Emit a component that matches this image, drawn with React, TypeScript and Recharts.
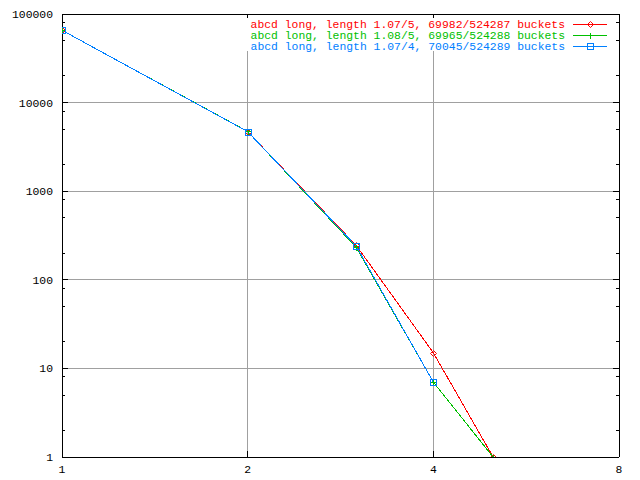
import React from 'react';
import { LineChart, Line, XAxis, YAxis, CartesianGrid, Legend } from 'recharts';

const FONT = "'Liberation Mono', 'DejaVu Sans Mono', monospace";

const seriesNames = [
  'abcd long, length 1.07/5, 69982/524287 buckets',
  'abcd long, length 1.08/5, 69965/524288 buckets',
  'abcd long, length 1.07/4, 70045/524289 buckets',
];
const seriesColors = ['#ff0000', '#00c000', '#0080ff'];

const redX = [1, 2, 3, 4, 5];
const redY = [65500, 4700, 244, 15, 1];
const greenX = [1, 2, 3, 4, 5];
const greenY = [65500, 4720, 232, 7, 1];
const blueX = [1, 2, 3, 4];
const blueY = [65500, 4700, 239, 7];

const xTicks = [1, 2, 4, 8];
const yTicks = [1, 10, 100, 1000, 10000, 100000];
const yMinorTicks = [2, 5, 8, 20, 50, 80, 200, 500, 800, 2000, 5000, 8000, 20000, 50000, 80000];
const yAllTicks = [...yTicks, ...yMinorTicks].sort((a, b) => a - b);

const toRows = (xs: number[], ys: number[]) => xs.map((x, i) => ({ x, y: ys[i] }));
const redData = toRows(redX, redY);
const greenData = toRows(greenX, greenY);
const blueData = toRows(blueX, blueY);

const Marker = ({ kind, cx, cy, color }: { kind: number; cx: number; cy: number; color: string }) => {
  if (kind === 0) {
    return (
      <polygon
        points={`${cx},${cy - 3} ${cx + 3},${cy} ${cx},${cy + 3} ${cx - 3},${cy}`}
        fill="none"
        stroke={color}
        strokeWidth={1}
      />
    );
  }
  if (kind === 1) {
    return (
      <g stroke={color} strokeWidth={1} shapeRendering="crispEdges">
        <line x1={cx - 3} y1={cy} x2={cx + 3} y2={cy} />
        <line x1={cx} y1={cy - 3} x2={cx} y2={cy + 3} />
      </g>
    );
  }
  return (
    <rect x={cx - 3} y={cy - 3} width={6} height={6} fill="none" stroke={color} strokeWidth={1} shapeRendering="crispEdges" />
  );
};

const makeDot = (kind: number, color: string) => (props: any) => {
  const { cx, cy, index } = props;
  if (cx == null || cy == null) return <g key={`d${kind}-${index}`} />;
  return (
    <g key={`d${kind}-${index}`}>
      <Marker kind={kind} cx={Math.round(cx) + 0.5} cy={Math.round(cy) + 0.5} color={color} />
    </g>
  );
};

const isMajor = (v: number) => yTicks.includes(v);

const LeftTick = (props: any) => {
  const { x, y, payload } = props;
  const major = isMajor(payload.value);
  return (
    <g>
      <line x1={x} y1={y} x2={x + (major ? 6 : 3)} y2={y} stroke="#000" shapeRendering="crispEdges" />
      {major ? (
        <text x={x - 9} y={y} dy={4} textAnchor="end" fontFamily={FONT} fontSize={11.4} fill="#000">
          {payload.value}
        </text>
      ) : null}
    </g>
  );
};
const RightTick = (props: any) => {
  const { x, y, payload } = props;
  const major = isMajor(payload.value);
  return <line x1={x} y1={y} x2={x - (major ? 6 : 3)} y2={y} stroke="#000" shapeRendering="crispEdges" />;
};
const BottomTick = (props: any) => {
  const { x, y, payload } = props;
  return (
    <g>
      <line x1={x} y1={y} x2={x} y2={y - 6} stroke="#000" shapeRendering="crispEdges" />
      <text x={x} y={y + 16} textAnchor="middle" fontFamily={FONT} fontSize={11.4} fill="#000">
        {payload.value}
      </text>
    </g>
  );
};
const TopTick = (props: any) => {
  const { x, y } = props;
  return <line x1={x} y1={y} x2={x} y2={y + 6} stroke="#000" shapeRendering="crispEdges" />;
};

const LegendContent = (props: any) => {
  const payload = ((props.payload || []) as any[])
    .slice()
    .sort((a, b) => seriesNames.indexOf(a.value) - seriesNames.indexOf(b.value));
  return (
    <svg width={640} height={60} style={{ display: 'block' }}>
      <rect x={241} y={18} width={370} height={33} fill="#fff" />
      {payload.map((entry, i) => {
        const idx = seriesNames.indexOf(entry.value);
        const cy = 24 + i * 11;
        const color = seriesColors[idx] || entry.color;
        return (
          <g key={`leg-${i}`}>
            <text x={565} y={cy} dy={4} textAnchor="end" fontFamily={FONT} fontSize={11.4} fill={color}>
              {entry.value}
            </text>
            <line x1={573} y1={cy + 0.5} x2={607} y2={cy + 0.5} stroke={color} strokeWidth={1} shapeRendering="crispEdges" />
            <Marker kind={idx} cx={590.5} cy={cy + 0.5} color={color} />
          </g>
        );
      })}
    </svg>
  );
};

const gridH = (args: any) => {
  const yAxis = args.yAxis;
  if (yAxis && typeof yAxis.scale === 'function') {
    return yTicks.map((v) => yAxis.scale(v));
  }
  const off = args.offset;
  return yTicks.map((v) => off.top + off.height * (1 - Math.log10(v) / 5));
};

export default function App() {
  return (
    <div style={{ position: 'absolute', left: 0, top: 0, width: 640, height: 480, background: '#fff' }}>
      <LineChart width={640} height={480} margin={{ top: 13, right: 20, bottom: 22, left: 61 }}>
        <CartesianGrid
          stroke="#a0a0a0"
          strokeWidth={1}
          shapeRendering="crispEdges"
          horizontalCoordinatesGenerator={gridH}
        />
        <XAxis
          xAxisId={0}
          dataKey="x"
          type="number"
          scale="log"
          domain={[1, 8]}
          allowDataOverflow
          ticks={xTicks}
          interval={0}
          height={1}
          tickSize={0}
          tickMargin={0}
          tickLine={false}
          tick={<BottomTick />}
          axisLine={{ stroke: '#000', shapeRendering: 'crispEdges' }}
        />
        <XAxis
          xAxisId="top"
          orientation="top"
          dataKey="x"
          type="number"
          scale="log"
          domain={[1, 8]}
          allowDataOverflow
          ticks={xTicks}
          interval={0}
          height={1}
          tickSize={0}
          tickMargin={0}
          tickLine={false}
          tick={<TopTick />}
          axisLine={{ stroke: '#000', shapeRendering: 'crispEdges' }}
        />
        <YAxis
          yAxisId={0}
          type="number"
          scale="log"
          domain={[1, 100000]}
          allowDataOverflow
          ticks={yAllTicks}
          interval={0}
          width={1}
          tickSize={0}
          tickMargin={0}
          tickLine={false}
          tick={<LeftTick />}
          axisLine={{ stroke: '#000', shapeRendering: 'crispEdges' }}
        />
        <YAxis
          yAxisId="right"
          orientation="right"
          type="number"
          scale="log"
          domain={[1, 100000]}
          allowDataOverflow
          ticks={yAllTicks}
          interval={0}
          width={1}
          tickSize={0}
          tickMargin={0}
          tickLine={false}
          tick={<RightTick />}
          axisLine={{ stroke: '#000', shapeRendering: 'crispEdges' }}
        />
        <Legend
          layout="horizontal"
          verticalAlign="middle"
          align="center"
          wrapperStyle={{ position: 'absolute', left: 0, top: 0, width: 640, height: 60 }}
          content={<LegendContent />}
        />
        <Line
          data={redData}
          dataKey="y"
          name={seriesNames[0]}
          stroke={seriesColors[0]}
          strokeWidth={1}
          shapeRendering="crispEdges"
          dot={makeDot(0, seriesColors[0])}
          activeDot={false}
          isAnimationActive={false}
          type="linear"
        />
        <Line
          data={greenData}
          dataKey="y"
          name={seriesNames[1]}
          stroke={seriesColors[1]}
          strokeWidth={1}
          shapeRendering="crispEdges"
          dot={makeDot(1, seriesColors[1])}
          activeDot={false}
          isAnimationActive={false}
          type="linear"
        />
        <Line
          data={blueData}
          dataKey="y"
          name={seriesNames[2]}
          stroke={seriesColors[2]}
          strokeWidth={1}
          shapeRendering="crispEdges"
          dot={makeDot(2, seriesColors[2])}
          activeDot={false}
          isAnimationActive={false}
          type="linear"
        />
      </LineChart>
    </div>
  );
}
